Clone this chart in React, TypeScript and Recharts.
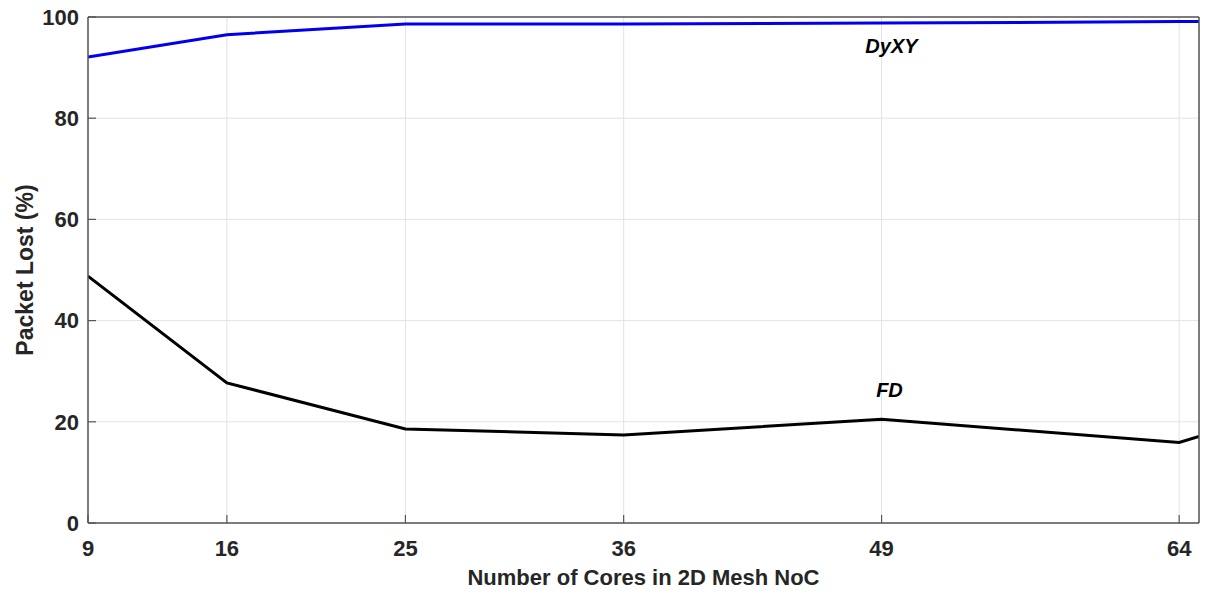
import { LineChart, Line, XAxis, YAxis, CartesianGrid, ReferenceDot } from 'recharts';

// number of cores in the mesh (last point sits just past the 64 tick)
const cores = [9, 16, 25, 36, 49, 64, 65];
const dyxyLost = [92.1, 96.5, 98.6, 98.6, 98.8, 99.1, 99.1];
const fdLost = [48.8, 27.7, 18.6, 17.4, 20.5, 15.9, 17.1];

const xTicks = [9, 16, 25, 36, 49, 64];
const yTicks = [0, 20, 40, 60, 80, 100];

const data = cores.map((c, i) => ({ cores: c, dyxy: dyxyLost[i], fd: fdLost[i] }));

const FONT = '"Liberation Sans", Arial, sans-serif';
const INK = '#262626';
const AXIS = '#555555';

const tickStyle = { fill: INK, fontSize: 22, fontWeight: 700, fontFamily: FONT };

function XTitle({ viewBox }: any) {
  const { x, y, width } = viewBox;
  return (
    <text x={x + width / 2} y={y + 62} textAnchor="middle" fill={INK}
      fontSize={22} fontWeight={700} fontFamily={FONT}>
      Number of Cores in 2D Mesh NoC
    </text>
  );
}

function YTitle({ viewBox }: any) {
  const { x, y, height } = viewBox;
  const cx = x + 33;
  const cy = y + height / 2;
  return (
    <text x={cx} y={cy} textAnchor="middle" fill={INK} transform={`rotate(-90 ${cx} ${cy})`}
      fontSize={23} fontWeight={700} fontFamily={FONT}>
      Packet Lost (%)
    </text>
  );
}

function seriesLabel(text: string) {
  return ({ viewBox }: any) => (
    <text x={viewBox.x} y={viewBox.y} textAnchor="middle" dominantBaseline="central" fill="#000"
      fontSize={20} fontWeight={700} fontStyle="italic" fontFamily={FONT}>
      {text}
    </text>
  );
}

export default function App() {
  return (
    <div style={{ position: 'absolute', left: 0, top: 0, background: '#fff' }}>
      <LineChart width={1207} height={595} data={data}
        margin={{ top: 16, right: 7, bottom: 0, left: 0 }}>
        <CartesianGrid stroke="#e3e3e3" strokeWidth={1} />
        <XAxis dataKey="cores" type="number" domain={[9, 65]} ticks={xTicks}
          allowDataOverflow height={72} tick={tickStyle} tickSize={-8} tickMargin={25}
          axisLine={{ stroke: AXIS, strokeWidth: 1.5 }} tickLine={{ stroke: AXIS, strokeWidth: 1.2 }}
          label={<XTitle />} />
        <XAxis xAxisId="top" orientation="top" dataKey="cores" type="number" domain={[9, 65]}
          ticks={xTicks} allowDataOverflow height={1} tick={false} tickSize={-8}
          axisLine={{ stroke: AXIS, strokeWidth: 1.5 }} tickLine={{ stroke: AXIS, strokeWidth: 1.2 }} />
        <YAxis type="number" domain={[0, 100]} ticks={yTicks} width={88} tick={tickStyle}
          tickSize={-8} tickMargin={17}
          axisLine={{ stroke: AXIS, strokeWidth: 1.5 }} tickLine={{ stroke: AXIS, strokeWidth: 1.2 }}
          label={<YTitle />} />
        <YAxis yAxisId="right" orientation="right" type="number" domain={[0, 100]} ticks={yTicks}
          width={1} tick={false} tickSize={-8}
          axisLine={{ stroke: AXIS, strokeWidth: 1.5 }} tickLine={{ stroke: AXIS, strokeWidth: 1.2 }} />
        <Line type="linear" dataKey="dyxy" stroke="#0000ee" strokeWidth={3} dot={false}
          isAnimationActive={false} />
        <Line type="linear" dataKey="fd" stroke="#000000" strokeWidth={3} dot={false}
          isAnimationActive={false} />
        <ReferenceDot x={49.5} y={94.3} r={0} label={seriesLabel('DyXY')} />
        <ReferenceDot x={49.4} y={26.2} r={0} label={seriesLabel('FD')} />
      </LineChart>
    </div>
  );
}
